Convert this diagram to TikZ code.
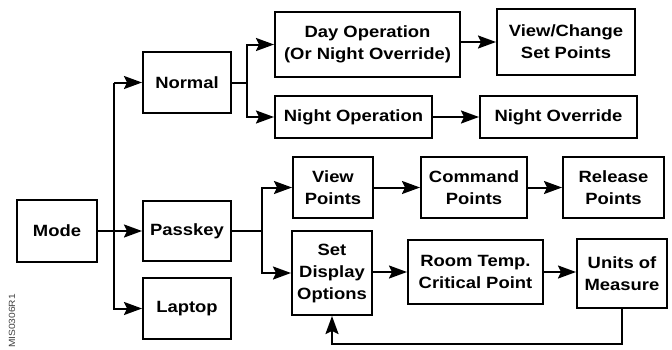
\documentclass[tikz,border=0pt]{standalone}
\usepackage{fontspec}
\setsansfont{Liberation Sans}[FakeStretch=1.13]
\usetikzlibrary{arrows.meta}

\begin{document}
\begin{tikzpicture}[x=1pt,y=-1pt,
  box/.style={draw, line width=2pt, align=center, inner sep=2pt,
    font=\sffamily\bfseries\fontsize{16.3}{22}\selectfont},
  arr/.style={line width=2pt, -{Stealth[length=18pt,width=13pt,inset=3pt]}},
  wire/.style={line width=2pt}]
\useasboundingbox (0,0) rectangle (672,349);

\node[box, minimum width=80, minimum height=62] (mode) at (57,231) {Mode};

\node[box, minimum width=88, minimum height=61] (normal) at (187,82.5) {Normal};
\node[box, minimum width=88, minimum height=60] (passkey) at (187,231) {Passkey};
\node[box, minimum width=88, minimum height=61] (laptop) at (187,308.5) {Laptop};

\node[box, minimum width=185, minimum height=65] (dayop) at (367.5,44.5) {Day Operation\\(Or Night Override)};
\node[box, minimum width=138, minimum height=66] (viewchg) at (566,42) {View/Change\\Set Points};
\node[box, minimum width=157, minimum height=42] (nightop) at (353.5,117) {Night Operation};
\node[box, minimum width=157, minimum height=42] (nightovr) at (558.5,117) {Night Override};

\node[box, minimum width=80, minimum height=61] (viewpts) at (333,187.5) {View\\Points};
\node[box, minimum width=106, minimum height=61] (cmdpts) at (474,187.5) {Command\\Points};
\node[box, minimum width=101, minimum height=61] (relpts) at (613.5,187.5) {Release\\Points};

\node[box, minimum width=80, minimum height=84] (setdisp) at (332,273) {Set\\Display\\Options};
\node[box, minimum width=135, minimum height=64] (roomtemp) at (475.5,272) {Room Temp.\\Critical Point};
\node[box, minimum width=90, minimum height=69] (units) at (622,273.5) {Units of\\Measure};

\node[rotate=90, text=black!75, font=\sffamily\fontsize{9}{9}\selectfont] (figid) at (12,321) {MIS0306R1};

\coordinate (trunk) at (114,0);
\coordinate (nbr) at (247,0);
\coordinate (pbr) at (262,0);
\coordinate (fback) at (0,344);

\draw[arr] (mode.east) -- (passkey.west);
\draw[arr] (trunk |- normal.west) -- (normal.west);
\draw[arr] (trunk |- normal.west) |- (laptop.west);

\draw[wire] (normal.east) -- (nbr |- normal.east);
\draw[arr] (nbr |- normal.east) |- (dayop.west);
\draw[arr] (nbr |- normal.east) |- (nightop.west);
\draw[arr] (dayop.east |- viewchg.west) -- (viewchg.west);
\draw[arr] (nightop.east) -- (nightovr.west);

\draw[wire] (passkey.east) -- (pbr |- passkey.east);
\draw[arr] (pbr |- passkey.east) |- (viewpts.west);
\draw[arr] (pbr |- passkey.east) |- (setdisp.west);
\draw[arr] (viewpts.east) -- (cmdpts.west);
\draw[arr] (cmdpts.east) -- (relpts.west);
\draw[arr] (setdisp.east |- roomtemp.west) -- (roomtemp.west);
\draw[arr] (roomtemp.east) -- (units.west |- roomtemp.east);
\draw[arr] (units.south) -- (units.south |- fback) -| (setdisp.south);

\end{tikzpicture}
\end{document}
